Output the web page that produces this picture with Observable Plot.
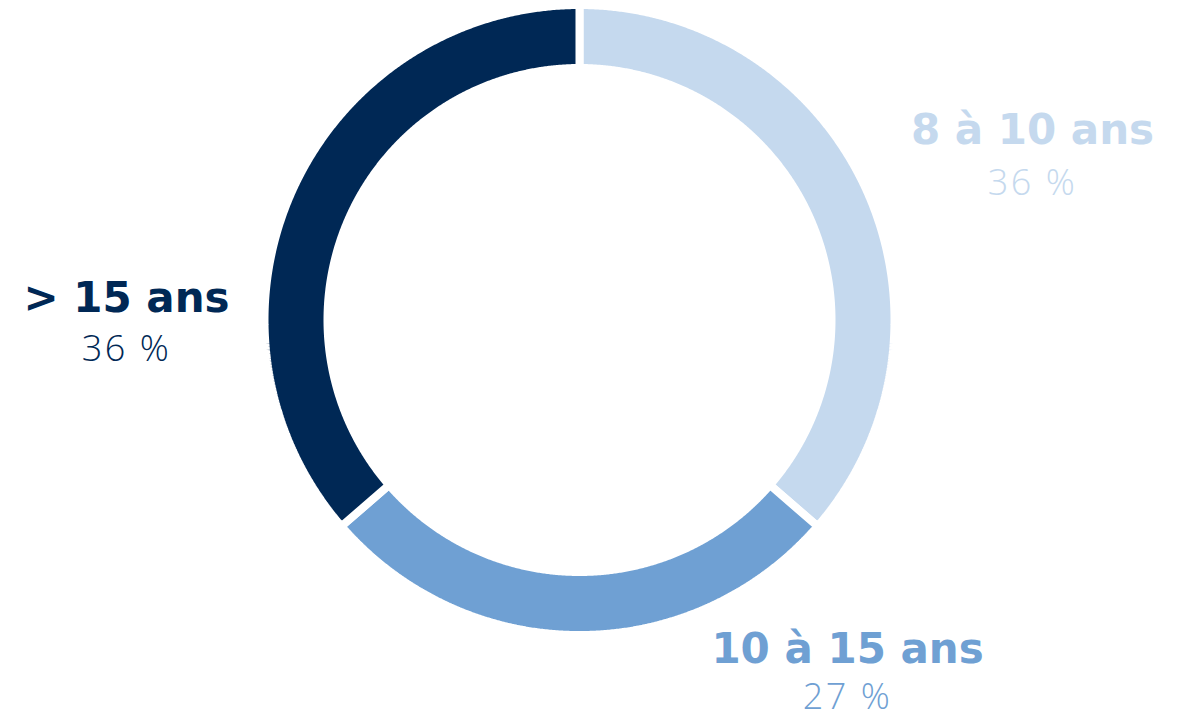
<!DOCTYPE html>
<html>
<head>
<meta charset="utf-8">
<script src="https://cdn.jsdelivr.net/npm/d3@7"></script>
<script src="https://cdn.jsdelivr.net/npm/@observablehq/plot@0.6"></script>
<style>
  html, body { margin: 0; padding: 0; background: #ffffff; }
  #chart svg { display: block; }
  .pct text { letter-spacing: 2.5px; }
</style>
</head>
<body>
<div id="chart"></div>
<script>
// ---- data ----
const labels = ["8 à 10 ans", "10 à 15 ans", "> 15 ans"];
const shares = [36, 27, 36];
const shareText = ["36 %", "27 %", "36 %"];
const colors = ["#c5d9ee", "#6fa0d3", "#002855"];

// ---- layout (data units, outer radius = 1) ----
const innerR = 0.8;
const outerR = 1.0;
const labelLayout = {
  "8 à 10 ans":  {x: 1.438,  ty: 0.602,  py: 0.435},
  "10 à 15 ans": {x: 0.851,  ty: -1.045, py: -1.198},
  "> 15 ans":    {x: -1.438, ty: 0.068,  py: -0.094}
};

const rows = labels.map((label, i) => ({label, share: shares[i], pct: shareText[i]}));
const arcs = d3.pie().sort(null).value(d => d.share)(rows);

// polygon vertices for each ring slice
const verts = [];
for (const a of arcs) {
  const n = Math.max(8, Math.ceil((a.endAngle - a.startAngle) / 0.005));
  for (let i = 0; i <= n; i++) {
    const t = a.startAngle + (a.endAngle - a.startAngle) * i / n;
    verts.push({label: a.data.label, x: outerR * Math.sin(t), y: outerR * Math.cos(t)});
  }
  for (let i = n; i >= 0; i--) {
    const t = a.startAngle + (a.endAngle - a.startAngle) * i / n;
    verts.push({label: a.data.label, x: innerR * Math.sin(t), y: innerR * Math.cos(t)});
  }
}

const W = 1187, H = 722, cx = 579, cy = 319.5, k = 315;

const chart = Plot.plot({
  width: W,
  height: H,
  margin: 0,
  x: {domain: [-cx / k, (W - cx) / k], axis: null},
  y: {domain: [-(H - cy) / k, cy / k], axis: null},
  color: {domain: labels, range: colors},
  marks: [
    Plot.line(verts, {
      x: "x", y: "y", z: "label", fill: "label",
      stroke: "white", strokeWidth: 8, strokeLinejoin: "miter",
      curve: "linear-closed"
    }),
    Plot.text(rows, {
      x: d => labelLayout[d.label].x,
      y: d => labelLayout[d.label].ty,
      text: "label", fill: "label",
      fontSize: 42, fontWeight: "bold", fontFamily: "DejaVu Sans",
      textAnchor: "middle", lineAnchor: "middle"
    }),
    Plot.text(rows, {
      x: d => labelLayout[d.label].x,
      y: d => labelLayout[d.label].py,
      text: "pct", fill: "label", className: "pct",
      fontSize: 36, fontWeight: 300, fontFamily: "Open Sans",
      textAnchor: "middle", lineAnchor: "middle"
    })
  ]
});
document.getElementById("chart").appendChild(chart);
</script>
</body>
</html>
